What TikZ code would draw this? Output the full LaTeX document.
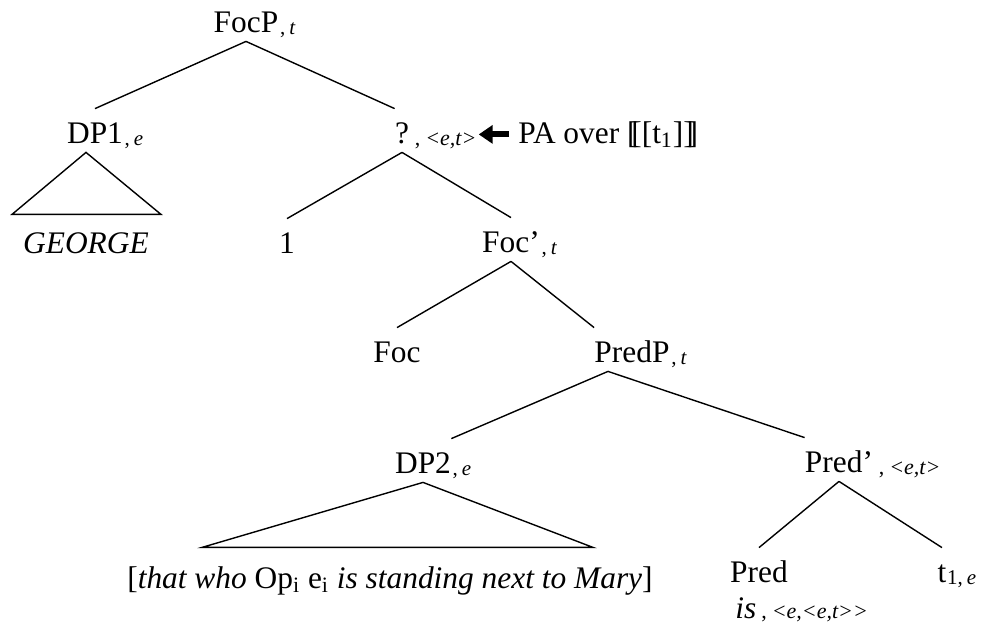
\documentclass[tikz,border=0pt]{standalone}
\usepackage{fontspec}
\setmainfont{Liberation Serif}
\usetikzlibrary{arrows.meta}
\newcommand{\ty}[1]{{\fontsize{10.5}{10.5}\selectfont\kern0.5pt,\kern2pt\textit{#1}}}
\newcommand{\tyx}[1]{{\fontsize{11}{11}\selectfont\kern2.5pt,\kern2.5pt\textit{#1}}}
\newcommand{\lsem}{[\kern-.2em[}
\newcommand{\rsem}{]\kern-.2em]}
\tikzset{
  cat/.style={inner sep=0pt, text height=17pt, text depth=4.5pt, anchor=base},
  typ/.style={inner sep=0pt, anchor=base west, yshift=-1pt},
  leaf/.style={inner sep=0pt, anchor=base},
  branch/.style={line width=0.7pt},
  fat/.style={line width=3pt, -{Triangle[length=7pt,width=9pt]}}
}
\begin{document}
\begin{tikzpicture}[x=0.5pt,y=-0.5pt,font=\fontsize{15.7}{18}\selectfont]
\useasboundingbox (0,0) rectangle (981,627);
% categories
\node[cat] (focp) at (246,32) {FocP};
\node[typ] (focpt) at (focp.base east) {\ty{t}};
\node[cat] (dp1) at (95,143) {DP1};
\node[typ] (dp1t) at (dp1.base east) {\ty{e}};
\node[cat] (q) at (402,143) {?};
\node[typ] (qt) at (q.base east) {\tyx{<e,t>}};
\node[leaf, anchor=base west] (pa) at (518,143) {PA over \lsem[t\textsubscript{1}]\rsem};
\node[leaf] (george) at (86,253) {\textit{GEORGE}};
\node[cat] (one) at (287,253) {1};
\node[cat] (focbar) at (511,252) {Foc'};
\node[typ] (focbart) at (focbar.base east) {\ty{t}};
\node[cat] (foc) at (397,362) {Foc};
\node[cat] (predp) at (632,362) {PredP};
\node[typ] (predpt) at (predp.base east) {\ty{t}};
\node[cat] (dp2) at (423,473) {DP2};
\node[typ] (dp2t) at (dp2.base east) {\ty{e}};
\node[leaf] (clause) at (390,588) {[\textit{that who} Op\textsubscript{i} e\textsubscript{i} \textit{is standing next to Mary}]};
\node[cat] (predbar) at (839,472) {Pred'};
\node[typ] (predbart) at (predbar.base east) {\tyx{<e,t>}};
\node[cat] (pred) at (759,582) {Pred};
\node[leaf, anchor=base west] (is) at (735,618) {\textit{is}\tyx{<e,<e,t>{}>}};
\node[cat] (trace) at (942,582) {t};
\node[typ] (tracet) at (trace.base east) {{\fontsize{10.5}{10.5}\selectfont 1,\kern2pt\textit{e}}};
% branches
\draw[branch] (focp.south) -- (dp1.north);
\draw[branch] (focp.south) -- (q.north west);
\draw[branch] (q.south) -- (one.north);
\draw[branch] (q.south) -- (focbar.north);
\draw[branch] (focbar.south) -- (foc.north);
\draw[branch] (focbar.south) -- (predp.north west);
\draw[branch] ([xshift=-12pt]predp.south) -- (dp2.north east);
\draw[branch] ([xshift=-12pt]predp.south) -- (predbar.north west);
\draw[branch] (predbar.south) -- (pred.north);
\draw[branch] (predbar.south) -- (trace.north);
% roofs
\draw[branch] ([xshift=-4.5pt]dp1.south) -- ++(-74,62) -- ++(149,0) -- cycle;
\draw[branch] (dp2.south) -- ++(-221,65) -- ++(391,0) -- cycle;
% PA arrow
\draw[fat, shorten <=4.5pt, shorten >=1pt] (pa.west) -- (pa.west -| qt.east);
\end{tikzpicture}
\end{document}
